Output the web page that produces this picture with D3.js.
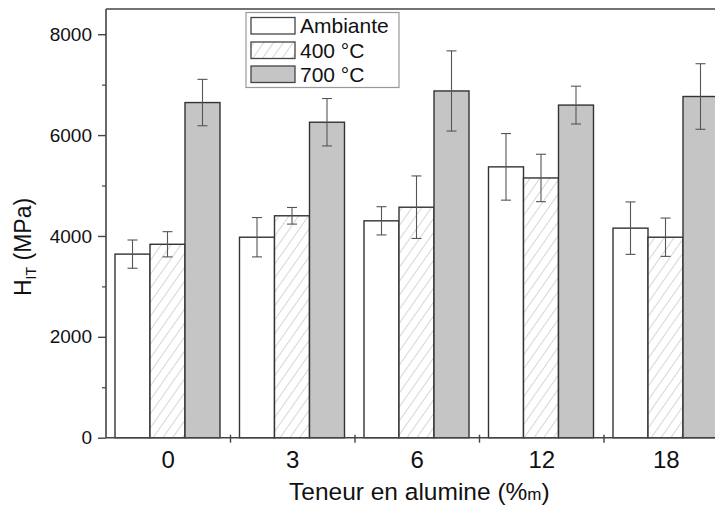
<!DOCTYPE html>
<html><head><meta charset="utf-8">
<script src="https://cdn.jsdelivr.net/npm/d3@7"></script>
<style>body{margin:0;background:#fff}svg{display:block}text{font-family:"Liberation Sans",Arial,sans-serif;fill:#111}</style>
</head><body><svg id="c" width="715" height="507"></svg>
<script>
const categories = ["0","3","6","12","18"];
const seriesNames = ["Ambiante","400 °C","700 °C"];
const ambiante = [3640, 3975, 4300, 5370, 4155];
const ambianteErr = [280, 390, 280, 660, 520];
const t400 = [3835, 4400, 4570, 5150, 3975];
const t400Err = [250, 165, 620, 470, 380];
const t700 = [6645, 6255, 6875, 6595, 6765];
const t700Err = [460, 470, 795, 375, 650];
const yTicks = [0, 2000, 4000, 6000, 8000];
const yMinor = [1000, 3000, 5000, 7000];

const series = [
  {name: seriesNames[0], values: ambiante, err: ambianteErr, fill: "#fff"},
  {name: seriesNames[1], values: t400, err: t400Err, fill: "url(#hatch)"},
  {name: seriesNames[2], values: t700, err: t700Err, fill: "#c5c5c5"}
];

const svg = d3.select("#c");
const L = 106, R = 728.5, T = 9, B = 437.7;
const defs = svg.append("defs");
const pat = defs.append("pattern").attr("id","hatch").attr("patternUnits","userSpaceOnUse")
  .attr("width",8).attr("height",8).attr("patternTransform","rotate(35)");
pat.append("rect").attr("width",8).attr("height",8).attr("fill","#fff");
pat.append("line").attr("x1",0).attr("y1",0).attr("x2",0).attr("y2",8).attr("stroke","#b5b5b5").attr("stroke-width",1.1);

const x = d3.scaleBand().domain(categories).range([L, R]).padding(0);
const xs = d3.scaleBand().domain(d3.range(3)).range([9, 114]).padding(0);
const y = d3.scaleLinear().domain([0, 8500]).range([B, T]);

// bars
series.forEach((s, si) => {
  const g = svg.append("g");
  g.selectAll("rect").data(categories).join("rect")
    .attr("x", (c) => x(c) + xs(si))
    .attr("y", (c,i) => y(s.values[i]))
    .attr("width", xs.bandwidth())
    .attr("height", (c,i) => y(0) - y(s.values[i]))
    .attr("fill", s.fill).attr("stroke", "#333").attr("stroke-width", 1.4);
});
// error bars
series.forEach((s, si) => {
  const g = svg.append("g").attr("stroke","#555").attr("stroke-width",1.1);
  categories.forEach((c,i) => {
    const cx = x(c) + xs(si) + xs.bandwidth()/2;
    const y1 = y(s.values[i] + s.err[i]), y2 = y(s.values[i] - s.err[i]);
    g.append("line").attr("x1",cx).attr("x2",cx).attr("y1",y1).attr("y2",y2);
    g.append("line").attr("x1",cx-5).attr("x2",cx+5).attr("y1",y1).attr("y2",y1);
    g.append("line").attr("x1",cx-5).attr("x2",cx+5).attr("y1",y2).attr("y2",y2);
  });
});

// frame
svg.append("line").attr("x1",L).attr("x2",720).attr("y1",T).attr("y2",T).attr("stroke","#444").attr("stroke-width",1.6);
// y axis
const yAxis = d3.axisLeft(y).tickValues(yTicks).tickSize(8).tickPadding(6).tickFormat(d3.format("d"));
const ya = svg.append("g").attr("transform",`translate(${L},0)`).call(yAxis);
ya.select(".domain").attr("stroke","#444").attr("stroke-width",1.6).attr("d",`M0,${T}V${B}`);
ya.selectAll(".tick line").attr("stroke","#444").attr("stroke-width",1.4);
ya.selectAll(".tick text").attr("font-size",19).attr("fill","#111").attr("font-family","Liberation Sans, Arial, sans-serif");
const ym = d3.axisLeft(y).tickValues(yMinor).tickSize(4).tickFormat("");
const yma = svg.append("g").attr("transform",`translate(${L},0)`).call(ym);
yma.select(".domain").remove();
yma.selectAll(".tick line").attr("stroke","#444").attr("stroke-width",1.2);

// x axis
svg.append("line").attr("x1",L).attr("x2",720).attr("y1",B).attr("y2",B).attr("stroke","#444").attr("stroke-width",1.6);
categories.slice(1).forEach(c => {
  svg.append("line").attr("x1",x(c)).attr("x2",x(c)).attr("y1",B-3).attr("y2",B+5).attr("stroke","#444").attr("stroke-width",1.4);
});
const xa = d3.axisBottom(x).tickSize(0).tickPadding(0);
const xg = svg.append("g").attr("transform",`translate(0,${B})`).call(xa);
xg.select(".domain").remove();
xg.selectAll(".tick text").attr("font-size",24).attr("dy",null).attr("y",30.5).attr("fill","#111")
  .attr("font-family","Liberation Sans, Arial, sans-serif");

// axis titles
const xt = svg.append("text").attr("x",289).attr("y",500).attr("text-anchor","start").attr("font-size",24.5);
xt.append("tspan").attr("font-size",24.5).text("Teneur en alumine (%");
xt.append("tspan").attr("font-size",17).text("m");
xt.append("tspan").attr("font-size",24.5).text(")");
const yt = svg.append("text").attr("transform","translate(31,296) rotate(-90)").attr("text-anchor","start").attr("font-size",23);
yt.append("tspan").attr("font-size",23).text("H");
yt.append("tspan").attr("font-size",14).attr("dy",5).text("IT");
yt.append("tspan").attr("font-size",23).attr("dy",-5).text(" (MPa)");

// legend
const lg = svg.append("g");
lg.append("rect").attr("x",246).attr("y",12.5).attr("width",153).attr("height",75)
  .attr("fill","#fff").attr("stroke","#999").attr("stroke-width",1.2);
const ly = [17.5, 42, 66];
series.forEach((s, i) => {
  lg.append("rect").attr("x",251).attr("y",ly[i]).attr("width",44).attr("height",16.5)
    .attr("fill",s.fill).attr("stroke","#444").attr("stroke-width",1.3);
  lg.append("text").attr("x",300).attr("y",ly[i]+15.5).attr("font-size",21).text(s.name);
});
</script></body></html>
